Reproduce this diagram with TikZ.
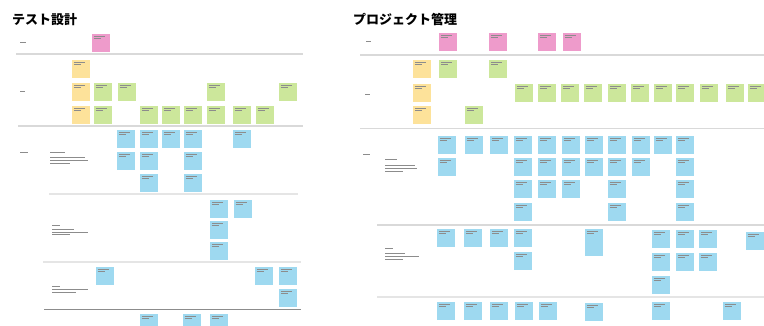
\documentclass[tikz,border=0pt]{standalone}
\usepackage{fontspec}
\newfontfamily\jp{Noto Sans CJK JP}
\usetikzlibrary{positioning}

\definecolor{notepink}{HTML}{EE9BCB}
\definecolor{noteyellow}{HTML}{FDE29A}
\definecolor{notegreen}{HTML}{CCE79B}
\definecolor{noteblue}{HTML}{9ED9F0}

\tikzset{
  note/.style={rectangle,draw=white,line width=0.8pt,inner sep=0pt,
    minimum width=19pt,minimum height=19pt,anchor=north west,
    path picture={
      \draw[black!45,line width=0.3pt]
        ([xshift=2.5pt,yshift=-3pt]path picture bounding box.north west) -- ++(11pt,0)
        ([xshift=2.5pt,yshift=-5pt]path picture bounding box.north west) -- ++(7pt,0);}},
  tallnote/.style={note,minimum height=28pt},
  title/.style={font=\jp\bfseries\fontsize{13}{13}\selectfont,anchor=base west,inner sep=0pt},
  rowline/.style={draw=black!15,line width=1.8pt},
  grpline/.style={draw=black!10,line width=1.1pt},
  endline/.style={draw=black!45,line width=0.9pt},
  scrib/.style={draw=black!45,line width=0.5pt}
}

\begin{document}
\begin{tikzpicture}[x=1pt,y=-1pt]
  \clip (0,0) rectangle (764,325);
  \fill[white] (0,0) rectangle (764,325);

  \node[title] (ttest) at (12,24) {テスト設計};
  \node[title] (tproj) at (353,24) {プロジェクト管理};

  % separators
  \draw[rowline] (16,54) -- (303,54);
  \draw[rowline] (18,126) -- (303,126);
  \draw[grpline] (49,194) -- (298,194);
  \draw[grpline] (43,262) -- (301,262);
  \draw[endline] (44,309) -- (301,309);
  \draw[rowline] (360,55) -- (764,55);
  \draw[rowline] (360,128.5) -- (764,128.5);
  \draw[rowline,line width=1.4pt] (377,225) -- (764,225);
  \draw[grpline] (377,297) -- (764,297);

  % row and group labels
  \foreach \x/\y/\w in {20/42/6, 20/91/5, 20/152/8,
      50/152/15, 50/157/35, 50/160/38, 50/163/20,
      52/225/8, 52/229/22, 52/232/36, 52/234/18,
      52/286/8, 52/289/36, 52/292/24,
      366/41/5, 365/94/5, 363/154/7,
      385/159/12, 385/165/30, 385/168/32, 385/171/18,
      385/248/8, 385/253/20, 385/256/34, 385/259/18}
    \draw[scrib] (\x,\y) -- ++(\w,0);

  % test design board
  \node[note,fill=notepink] (lp1) at (91,33) {};
  \foreach \y [count=\i] in {59,82,105}
    \node[note,fill=noteyellow] (ly\i) at (71,\y) {};
  \foreach \x/\y [count=\i] in {93/82, 117/82, 206/82, 278/82,
      93/105, 139/105, 161/105, 183/105, 206/105, 232/105, 255/105}
    \node[note,fill=notegreen] (lg\i) at (\x,\y) {};
  \foreach \x/\y [count=\i] in {116/129, 116/151, 139/129, 139/151, 139/173,
      161/129, 183/129, 183/151, 183/173, 232/129,
      209/199, 209/220, 209/241, 233/199,
      95/266, 254/266, 278/266, 278/288,
      139/313, 182/313, 209/313}
    \node[note,fill=noteblue] (lb\i) at (\x,\y) {};

  % project management board
  \foreach \x [count=\i] in {438,488,537,562}
    \node[note,fill=notepink] (rp\i) at (\x,32) {};
  \foreach \y [count=\i] in {59,83,105}
    \node[note,fill=noteyellow] (ry\i) at (412,\y) {};
  \foreach \x/\y [count=\i] in {438/59, 488/59, 464/105,
      514/83, 537/83, 560/83, 583/83, 607/83, 630/83,
      653/83, 675/83, 699/83, 725/83, 747/83}
    \node[note,fill=notegreen] (rg\i) at (\x,\y) {};
  \foreach \x/\y [count=\i] in {437/135, 437/157, 464/135, 489/135,
      513/135, 513/157, 513/179, 513/202,
      537/135, 537/157, 537/179,
      561/135, 561/157, 561/179,
      584/135, 584/157,
      607/135, 607/157, 607/179, 607/202,
      631/135, 631/157, 653/135,
      675/135, 675/157, 675/179, 675/202,
      436/228, 463/228, 489/228, 513/228, 513/251,
      651/229, 651/252, 651/275, 675/229, 675/252,
      698/229, 698/252, 745/231,
      436/301, 463/301, 489/301, 514/301, 538/301,
      584/302, 651/301, 722/301}
    \node[note,fill=noteblue] (rb\i) at (\x,\y) {};
  \node[tallnote,fill=noteblue] (rbt) at (584,228) {};
\end{tikzpicture}
\end{document}
